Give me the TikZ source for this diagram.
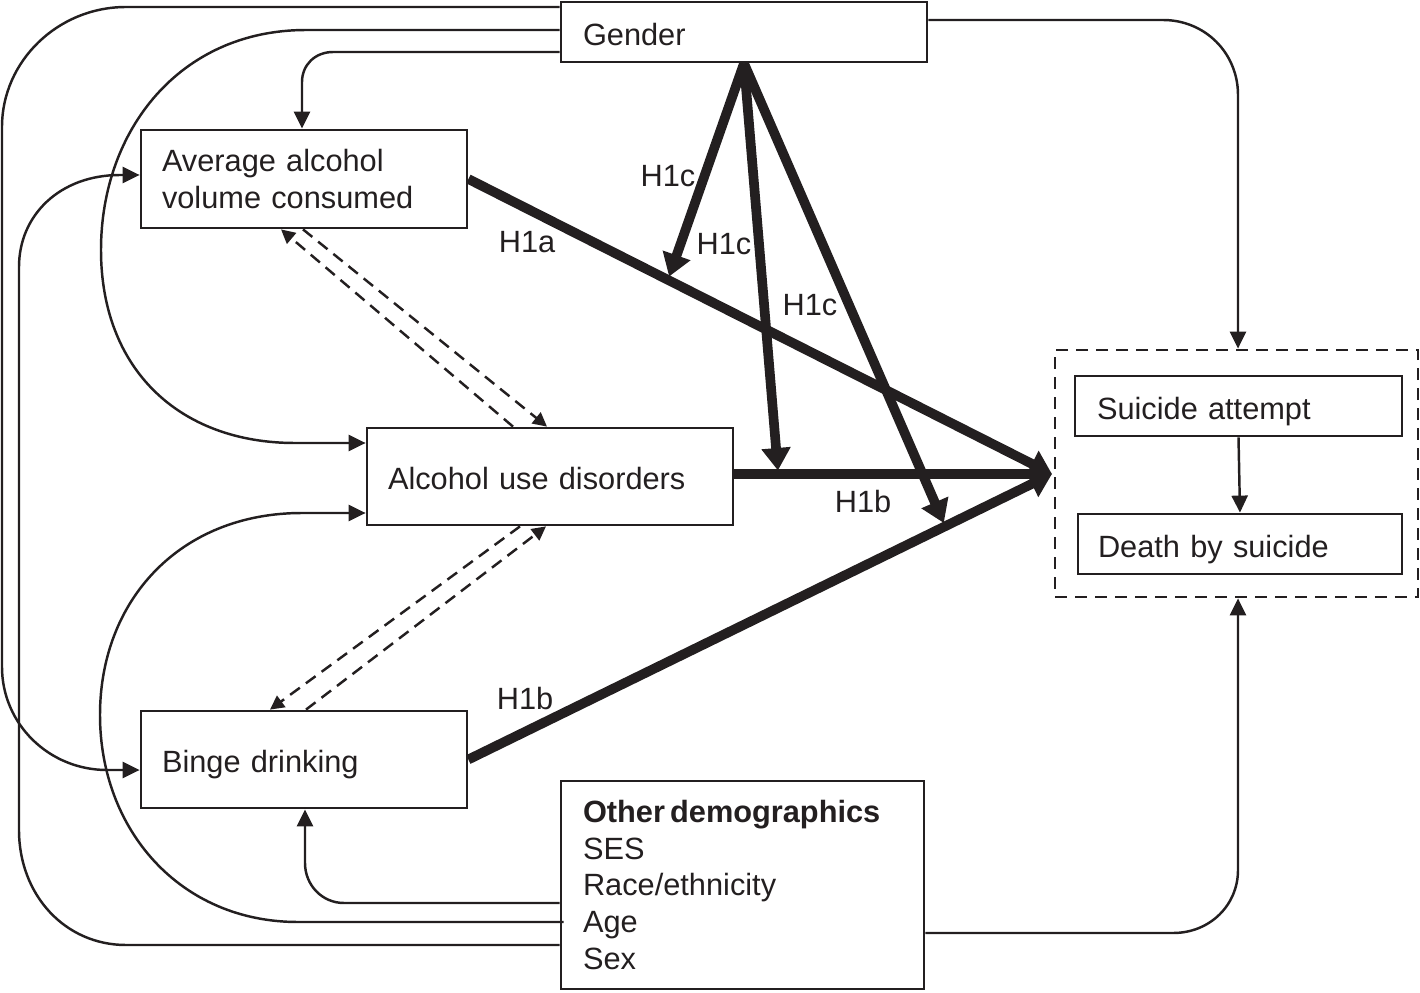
\documentclass[tikz,border=0pt]{standalone}
\usepackage{fontspec}
\setmainfont{Liberation Sans}
\usetikzlibrary{arrows.meta,calc}
\definecolor{ink}{RGB}{35,31,32}
\begin{document}
\begin{tikzpicture}[x=0.02cm,y=-0.02cm,
  every node/.style={font=\fontsize{17.5}{21}\selectfont, text=ink},
  box/.style={draw=ink, line width=1.6pt, align=left, inner ysep=0pt},
  onebox/.style={box, text height=15pt, text depth=0pt},
  lbl/.style={inner sep=0pt},
  thin/.style={draw=ink, line width=1.4pt, -{Triangle[length=0.34cm,width=0.32cm]}},
  thick/.style={draw=ink, line width=5.5pt, -{Triangle[length=0.45cm,width=0.56cm]}, shorten >=2pt},
  dashedarrow/.style={draw=ink, line width=1.4pt, dash pattern=on 0.24cm off 0.15cm, -{Triangle[length=0.28cm,width=0.28cm]}}
]
\useasboundingbox (0,0) rectangle (1420,993);

% boxes
\node[onebox, text width=6.44cm, inner xsep=0.44cm, minimum height=1.2cm] (gender) at (744,32) {Gender};
\node[box, text width=5.68cm, inner xsep=0.42cm, minimum height=1.96cm] (avg) at (304,179) {Average alcohol\\volume consumed};
\node[onebox, text width=6.48cm, inner xsep=0.42cm, minimum height=1.94cm] (aud) at (550,476.5) {Alcohol use disorders};
\node[onebox, text width=5.68cm, inner xsep=0.42cm, minimum height=1.94cm] (binge) at (304,759.5) {Binge drinking};
\node[box, text width=6.38cm, inner xsep=0.44cm, minimum height=4.16cm] (other) at (742.5,885) {\textbf{Other\,demographics}\\SES\\Race/ethnicity\\Age\\Sex};
\node[draw=ink, line width=1.6pt, dash pattern=on 0.24cm off 0.16cm, minimum width=7.26cm, minimum height=4.94cm, inner sep=0pt] (cont) at (1236.5,473.5) {};
\node[onebox, text width=5.66cm, inner xsep=0.44cm, minimum height=1.2cm] (attempt) at (1238.5,406) {Suicide attempt};
\node[onebox, text width=5.68cm, inner xsep=0.40cm, minimum height=1.2cm] (death) at (1240,544) {Death by suicide};

\coordinate (conv) at (1052,474);

% thin curved connectors
\draw[thin] (gender.west |- 0,7) -- (126,7) .. controls (58,7) and (2,61) .. (2,127) -- (2,667) .. controls (2,724) and (49,770) .. (107,770) -- (binge.west |- 0,770);
\draw[thin] (gender.west |- 0,30) -- (306,30) .. controls (180,30) and (101,130) .. (101,250) .. controls (101,370) and (180,443) .. (295,443) -- (aud.west |- 0,443);
\draw[thin] (gender.west |- 0,52) -- (333,52) .. controls (315,52) and (302,65) .. (302,82) -- (avg.north -| 302,0);
\draw[thin] (gender.east |- 0,20) -- (1163,20) .. controls (1205,20) and (1238,53) .. (1238,95) -- (cont.north -| 1238,0);
\draw[thin] ($(other.west |- 0,922)+(4,0)$) -- (298,922) .. controls (180,922) and (100,830) .. (100,715) .. controls (100,600) and (180,513) .. (302,513) -- (aud.west |- 0,513);
\draw[thin] (other.west |- 0,903) -- (344,903) .. controls (322,903) and (305,885) .. (305,863) -- (binge.south -| 305,0);
\draw[thin] (other.west |- 0,945) -- (126,945) .. controls (65,945) and (19,895) .. (19,830) -- (19,267) .. controls (19,215) and (60,175) .. (120,175) -- (avg.west |- 0,175);
\draw[thin] (other.east |- 0,933) -- (1173,933) .. controls (1210,933) and (1238,905) .. (1238,870) -- (cont.south -| 1238,0);
\draw[thin] (attempt.south) -- (death.north);

% dashed correlations
\draw[dashedarrow] (aud.north -| 513,0) -- (avg.south -| 281,0);
\draw[dashedarrow] (avg.south -| 303,0) -- (aud.north -| 547,0);
\draw[dashedarrow] (aud.south -| 520,0) -- (binge.north -| 270,0);
\draw[dashedarrow] (binge.north -| 306,0) -- (aud.south -| 546,0);

% main thick paths
\draw[thick, shorten >=0pt] (avg.east) -- (conv);
\draw[thick, shorten >=0pt] (aud.east |- conv) -- (conv);
\draw[thick, shorten >=0pt] (binge.east) -- (conv);

% moderation by gender
\draw[thick] (gender.south) -- ($(avg.east)!0.342!(conv)$);
\draw[thick] (gender.south) -- ($(aud.east |- conv)!0.138!(conv)$);
\draw[thick] (gender.south) -- ($(binge.east)!0.817!(conv)$);

% labels
\node[lbl] (l1) at (668,176) {H1c};
\node[lbl] (l2) at (724,244) {H1c};
\node[lbl] (l3) at (810,305) {H1c};
\node[lbl] (l4) at (527,242) {H1a};
\node[lbl] (l5) at (863,502) {H1b};
\node[lbl] (l6) at (525,699) {H1b};
\end{tikzpicture}
\end{document}
